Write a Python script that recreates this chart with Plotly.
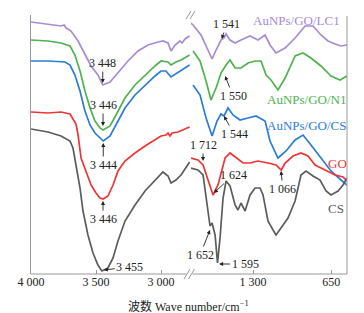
import plotly.graph_objects as go

# ---------------- data (wavenumber cm^-1, relative transmittance, arbitrary units) -------------
# high-wavenumber panel (4000 - 2780)
wn_lc1_hi = [4000, 3869, 3769, 3745, 3730, 3715, 3692, 3638, 3585, 3538, 3485, 3448, 3392, 3331, 3254, 3177, 3100, 3023, 2985, 2946, 2923, 2892, 2854, 2838, 2815, 2780]
t_lc1_hi = [252, 250, 248, 249, 246, 245, 243, 233, 219, 208, 199, 189, 192, 201, 213, 223, 229, 232, 233, 231, 223, 229, 233, 231, 235, 238]

wn_n1_hi = [4000, 3869, 3769, 3700, 3662, 3623, 3585, 3546, 3508, 3469, 3446, 3392, 3346, 3277, 3200, 3123, 3046, 3000, 2946, 2923, 2885, 2846, 2780]
t_n1_hi = [234, 233, 231, 228, 219, 203, 183, 166, 153, 146, 144, 148, 159, 176, 189, 199, 208, 213, 212, 209, 212, 214, 219]

wn_cs_au_hi = [4000, 3869, 3738, 3700, 3662, 3623, 3585, 3546, 3508, 3469, 3444, 3392, 3346, 3277, 3200, 3123, 3046, 3000, 2962, 2923, 2885, 2846, 2780]
t_cs_au_hi = [213, 213, 212, 209, 199, 183, 163, 149, 141, 136, 133, 138, 149, 166, 179, 189, 198, 203, 203, 197, 200, 203, 209]

wn_go_hi = [4000, 3869, 3769, 3700, 3654, 3638, 3615, 3577, 3538, 3500, 3469, 3446, 3408, 3369, 3331, 3277, 3200, 3123, 3046, 3000, 2962, 2946, 2931, 2915, 2869, 2780]
t_go_hi = [162, 161, 162, 160, 150, 139, 116, 103, 89, 81, 76, 75, 78, 89, 103, 113, 121, 128, 134, 138, 139, 141, 138, 141, 142, 147]

wn_cs_hi = [4000, 3869, 3769, 3700, 3677, 3654, 3623, 3600, 3562, 3523, 3485, 3455, 3408, 3369, 3331, 3277, 3200, 3123, 3046, 2985, 2946, 2923, 2885, 2846, 2780]
t_cs_hi = [145, 142, 138, 133, 126, 109, 86, 63, 39, 21, 9, 3, 6, 16, 33, 53, 69, 83, 94, 102, 98, 91, 94, 99, 112]

# low-wavenumber panel (1815 - 520)
wn_lc1_lo = [1815, 1798, 1732, 1674, 1640, 1607, 1566, 1541, 1524, 1491, 1449, 1400, 1325, 1259, 1200, 1159, 1109, 1034, 951, 868, 802, 736, 678, 619, 570, 520]
t_lc1_lo = [251, 249, 239, 223, 215, 224, 234, 236, 240, 234, 231, 234, 238, 234, 239, 229, 221, 226, 236, 248, 248, 239, 233, 230, 228, 229]

wn_n1_lo = [1798, 1740, 1690, 1649, 1607, 1566, 1524, 1491, 1449, 1400, 1342, 1283, 1234, 1192, 1151, 1093, 1034, 951, 885, 819, 736, 653, 578, 520]
t_n1_lo = [223, 213, 193, 174, 186, 201, 209, 214, 206, 206, 211, 213, 213, 199, 194, 184, 196, 218, 221, 216, 208, 198, 194, 198]

wn_cs_au_lo = [1798, 1740, 1690, 1640, 1599, 1566, 1541, 1508, 1466, 1408, 1342, 1275, 1200, 1159, 1093, 1026, 951, 885, 819, 736, 653, 570, 520]
t_cs_au_lo = [189, 179, 156, 138, 153, 160, 158, 166, 159, 154, 156, 158, 153, 133, 116, 123, 134, 139, 129, 116, 103, 94, 89]

wn_go_lo = [1815, 1757, 1715, 1674, 1632, 1591, 1532, 1491, 1441, 1383, 1325, 1259, 1176, 1109, 1066, 1034, 968, 902, 844, 785, 702, 619, 553, 520]
t_go_lo = [116, 114, 109, 93, 79, 89, 116, 121, 116, 111, 111, 113, 111, 109, 104, 111, 118, 121, 118, 109, 104, 99, 97, 93]

wn_cs_lo = [1815, 1757, 1715, 1690, 1657, 1640, 1615, 1595, 1574, 1549, 1524, 1491, 1449, 1425, 1400, 1366, 1325, 1283, 1242, 1217, 1176, 1134, 1109, 1068, 1010, 951, 902, 860, 802, 744, 694, 653, 594, 553, 520]
t_cs_lo = [106, 104, 99, 76, 48, 51, 39, 11, 36, 76, 93, 88, 69, 64, 71, 63, 79, 86, 86, 79, 53, 44, 39, 46, 56, 73, 99, 103, 98, 94, 83, 79, 83, 89, 96]

hi_ticks = [4000, 3500, 3000]
hi_ticktext = ["4 000", "3 500", "3 000"]
lo_ticks = [1300, 650]
lo_ticktext = ["1 300", "650"]

series = [
    ("AuNPs/GO/LC1", "#a88bd4", wn_lc1_hi, t_lc1_hi, wn_lc1_lo, t_lc1_lo),
    ("AuNPs/GO/N1", "#4fb24f", wn_n1_hi, t_n1_hi, wn_n1_lo, t_n1_lo),
    ("AuNPs/GO/CS", "#2a7dd4", wn_cs_au_hi, t_cs_au_hi, wn_cs_au_lo, t_cs_au_lo),
    ("GO", "#ef3434", wn_go_hi, t_go_hi, wn_go_lo, t_go_lo),
    ("CS", "#5c5c5c", wn_cs_hi, t_cs_hi, wn_cs_lo, t_cs_lo),
]

# peak labels: (text, axis, wavenumber, value, ax, ay)
peaks = [
    ("3 448", "x", 3448, 191, 0, -20),
    ("3 446", "x", 3446, 148, 0, -21),
    ("3 444", "x", 3444, 131, 0, 22),
    ("3 446", "x", 3446, 73, 0, 18),
    ("3 455", "x", 3440, 4, 26, -3),
    ("1 541", "x2", 1560, 235, 5, -15),
    ("1 550", "x2", 1532, 198, 8, 20),
    ("1 544", "x2", 1541, 158, 10, 18),
    ("1 712", "x2", 1715, 113, 0, -16),
    ("1 624", "x2", 1624, 81, 19, -18),
    ("1 652", "x2", 1657, 44, -10, 25),
    ("1 595", "x2", 1582, 10, 26, 0),
    ("1 066", "x2", 1068, 103, 2, 18),
]

# series labels: (text, colour, right edge px, centre px)
labels = [
    ("AuNPs/GO/LC1", "#a88bd4", 334, 13),
    ("AuNPs/GO/N1", "#4fb24f", 340, 91),
    ("AuNPs/GO/CS", "#2a7dd4", 340, 117),
    ("GO", "#ef3434", 341, 155),
    ("CS", "#5c5c5c", 338, 200),
]

FONT = "Liberation Serif, Times New Roman, Noto Sans CJK SC, serif"

fig = go.Figure()
for name, col, wh, th, wl, tl in series:
    fig.add_trace(go.Scatter(x=wh, y=th, mode="lines", line=dict(color=col, width=1.7),
                             xaxis="x", yaxis="y", showlegend=False, name=name))
    fig.add_trace(go.Scatter(x=wl, y=tl, mode="lines", line=dict(color=col, width=1.7),
                             xaxis="x2", yaxis="y", showlegend=False, name=name))

W, H = 364, 313
L, R, T, B = 23, 25, 7, 47
pw, ph = W - L - R, H - T - B
split_l = (182 - L) / pw
split_r = (183 - L) / pw


def px(x):
    return (x - L) / pw


def py(y):
    return (H - B - y) / ph


axis_common = dict(ticks="inside", ticklen=4, tickcolor="#999", showline=False, showgrid=False,
                   zeroline=False, ticklabelstandoff=-1,
                   tickfont=dict(family=FONT, size=12, color="#222"))
fig.update_layout(
    width=W, height=H, margin=dict(l=L, r=R, t=T, b=B),
    paper_bgcolor="white", plot_bgcolor="white",
    xaxis=dict(domain=[0, split_l], range=[4000, 2777], tickvals=hi_ticks, ticktext=hi_ticktext,
               anchor="y", **axis_common),
    xaxis2=dict(domain=[split_r, 1], range=[1815, 520], tickvals=lo_ticks, ticktext=lo_ticktext,
                anchor="y", **axis_common),
    yaxis=dict(range=[0, ph], showticklabels=False, ticks="", showgrid=False, zeroline=False,
               showline=True, linecolor="#999", linewidth=1),
)

line_col = "#999"
shapes = [
    dict(type="line", xref="paper", yref="paper", x0=0, x1=px(178.5), y0=0, y1=0,
         line=dict(color=line_col, width=1)),
    dict(type="line", xref="paper", yref="paper", x0=px(184.5), x1=1, y0=0, y1=0,
         line=dict(color=line_col, width=1)),
    dict(type="line", xref="paper", yref="paper", x0=1, x1=1, y0=0, y1=py(8),
         line=dict(color=line_col, width=1)),
    # axis break marks (bottom)
    dict(type="line", xref="paper", yref="paper", x0=px(176), x1=px(182), y0=py(271), y1=py(261),
         line=dict(color=line_col, width=1)),
    dict(type="line", xref="paper", yref="paper", x0=px(180.5), x1=px(186.5), y0=py(271), y1=py(261),
         line=dict(color=line_col, width=1)),
    # axis break marks (top)
    dict(type="line", xref="paper", yref="paper", x0=px(178), x1=px(183), y0=py(11), y1=py(3),
         line=dict(color=line_col, width=1)),
    dict(type="line", xref="paper", yref="paper", x0=px(182), x1=px(187), y0=py(11), y1=py(3),
         line=dict(color=line_col, width=1)),
]
fig.update_layout(shapes=shapes)

annotations = []
for text, xr, xv, yv, ax, ay in peaks:
    annotations.append(dict(text=text, xref=xr, yref="y", x=xv, y=yv, ax=ax, ay=ay,
                            showarrow=True, arrowhead=2, arrowsize=0.9, arrowwidth=0.9,
                            arrowcolor="#222", standoff=0,
                            font=dict(family=FONT, size=12, color="#222")))
for text, col, xp, yp in labels:
    annotations.append(dict(text=text, xref="paper", yref="paper", x=px(xp), y=py(yp),
                            xanchor="right", yanchor="middle", showarrow=False,
                            font=dict(family=FONT, size=13, color=col)))
annotations.append(dict(text="波数 Wave number/cm<sup>−1</sup>", xref="paper", yref="paper",
                        x=px(180), y=py(298), xanchor="center", yanchor="middle", showarrow=False,
                        font=dict(family=FONT, size=12, color="#222")))
fig.update_layout(annotations=annotations)

fig.write_html("out.html")
